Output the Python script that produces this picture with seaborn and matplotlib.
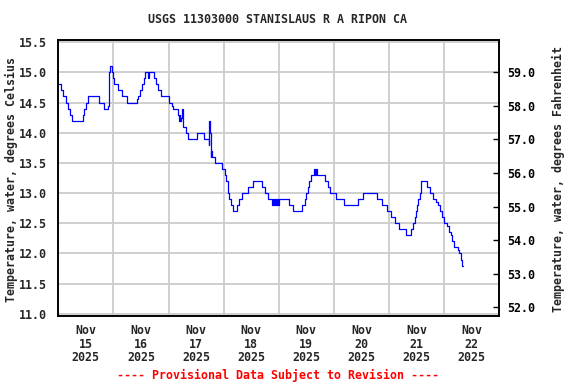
import numpy as np
import pandas as pd
import matplotlib
matplotlib.use("Agg")
import matplotlib.pyplot as plt
import matplotlib.dates as mdates
from matplotlib.ticker import FixedLocator, FormatStrFormatter
import seaborn as sns

# ---- data (hours since 2025-11-15 00:00, water temperature in deg C, step values) ----
hours = [0, 1.1, 2.2, 3.3, 4.1, 5.0, 5.9, 10.8, 11.3, 12.0, 12.9, 17.8, 20.0, 21.5,
         22.0, 22.6, 23.2, 23.8, 24.3, 26.1, 27.6, 30.0, 34.1, 34.8, 35.6, 36.3, 37.1,
         37.9, 39.2, 39.5, 41.7, 42.7, 43.5, 44.7, 48.3, 49.5, 50.1, 52.0, 52.4, 52.8,
         53.2, 53.6, 54.0, 54.3, 55.8, 56.6, 60.6, 63.5, 65.4, 65.8, 66.1, 66.4, 66.7,
         67.1, 68.3, 71.2, 72.4, 73.1, 73.7, 74.1, 74.5, 75.0, 76.1, 78.0, 78.6, 80.2,
         82.8, 84.6, 88.7, 89.8, 91.5, 93.0, 93.4, 93.9, 94.3, 94.8, 95.2, 95.7, 96.1,
         100.3, 102.2, 106.1, 107.3, 108.0, 108.7, 109.3, 110.1, 111.5, 111.9, 112.2,
         112.7, 116.2, 117.3, 118.5, 121.1, 124.3, 130.6, 132.6, 138.9, 141.0, 143.2,
         144.7, 146.8, 148.3, 151.5, 153.4, 154.3, 155.3, 155.8, 156.1, 156.6, 157.4,
         158.1, 160.4, 161.9, 163.3, 164.3, 165.3, 166.2, 167.2, 167.9, 169.1, 170.1,
         170.8, 171.6, 172.3, 174.0, 174.5, 175.2, 175.9, 176.2]
temp_c = [14.8, 14.7, 14.6, 14.5, 14.4, 14.3, 14.2, 14.3, 14.4, 14.5, 14.6, 14.5, 14.4, 14.45,
          15.0, 15.1, 15.0, 14.9, 14.8, 14.7, 14.6, 14.5, 14.55, 14.6, 14.7, 14.8, 14.9,
          15.0, 14.9, 15.0, 14.9, 14.8, 14.7, 14.6, 14.5, 14.45, 14.4, 14.3, 14.2, 14.3,
          14.2, 14.25, 14.4, 14.1, 14.0, 13.9, 14.0, 13.9, 13.8, 14.2, 14.0, 13.6, 13.7,
          13.6, 13.5, 13.4, 13.3, 13.2, 13.1, 13.0, 12.9, 12.8, 12.7, 12.8, 12.9, 13.0,
          13.1, 13.2, 13.1, 13.0, 12.9, 12.8, 12.9, 12.8, 12.9, 12.8, 12.9, 12.8, 12.9,
          12.8, 12.7, 12.8, 12.9, 13.0, 13.1, 13.2, 13.3, 13.4, 13.3, 13.4,
          13.3, 13.2, 13.1, 13.0, 12.9, 12.8, 12.9, 13.0, 12.9, 12.8, 12.7,
          12.6, 12.5, 12.4, 12.3, 12.4, 12.5, 12.6, 12.7, 12.8, 12.9, 13.0,
          13.2, 13.1, 13.0, 12.9, 12.85, 12.8, 12.7, 12.6, 12.5, 12.45, 12.35,
          12.3, 12.2, 12.1, 12.05, 12.0, 11.9, 11.8, 11.8]

start = pd.Timestamp("2025-11-15 00:00")
day_labels = ["Nov\n15\n2025", "Nov\n16\n2025", "Nov\n17\n2025", "Nov\n18\n2025",
              "Nov\n19\n2025", "Nov\n20\n2025", "Nov\n21\n2025", "Nov\n22\n2025"]
left_ticks = [11.0, 11.5, 12.0, 12.5, 13.0, 13.5, 14.0, 14.5, 15.0, 15.5]
right_ticks = [52.0, 53.0, 54.0, 55.0, 56.0, 57.0, 58.0, 59.0]

title = "USGS 11303000 STANISLAUS R A RIPON CA"
ylabel_left = "Temperature, water, degrees Celsius"
ylabel_right = "Temperature, water, degrees Fahrenheit"
footer = "---- Provisional Data Subject to Revision ----"

df = pd.DataFrame({"time": start + pd.to_timedelta(hours, unit="h"), "temp": temp_c})

sns.set_theme(style="white")
plt.rcParams["font.family"] = ["DejaVu Sans Mono", "DejaVu Sans"]
plt.rcParams["font.weight"] = "bold"
FS = 8.4

fig = plt.figure(figsize=(5.76, 3.84), dpi=100)
ax = fig.add_axes([0.1012, 0.1771, 0.7656, 0.7195])

ax.set_axisbelow(True)
sns.lineplot(data=df, x="time", y="temp", ax=ax, color="#0000FF", linewidth=0.9,
             drawstyle="steps-post")

ylo, yhi = 10.965, 15.54
ax.set_ylim(ylo, yhi)
x0 = start
x1 = start + pd.Timedelta(days=8)
ax.set_xlim(x0, x1)

# grid at midnights, labels at noon
mid = [start + pd.Timedelta(days=d) for d in range(1, 8)]
noon = [start + pd.Timedelta(days=d, hours=12) for d in range(8)]
ax.xaxis.set_major_locator(FixedLocator(mdates.date2num(mid)))
ax.xaxis.set_major_formatter(plt.NullFormatter())
ax.set_xticks(mdates.date2num(noon), minor=True)
ax.set_xticklabels(day_labels, minor=True, fontsize=FS, fontweight="bold",
                   linespacing=1.05)
ax.tick_params(axis="x", which="both", length=0, pad=6)
ax.set_yticks(left_ticks)
ax.yaxis.set_major_formatter(FormatStrFormatter("%.1f"))
ax.tick_params(axis="y", which="major", length=0, pad=8, labelsize=FS)
for t in ax.get_yticklabels():
    t.set_fontweight("bold")

ax.grid(True, which="major", color="#CCCCCC", linewidth=1.3)
ax.set_xlabel("")
ax.set_ylabel(ylabel_left, fontsize=FS, fontweight="bold")
ax.yaxis.set_label_coords(-0.091, 0.495)

for s in ax.spines.values():
    s.set_color("black")
    s.set_linewidth(1.2)

ax2 = ax.twinx()
ax2.set_ylim(ylo * 9 / 5 + 32, yhi * 9 / 5 + 32)
ax2.set_yticks(right_ticks)
ax2.yaxis.set_major_formatter(FormatStrFormatter("%.1f"))
ax2.tick_params(axis="y", direction="in", length=4, width=1, pad=6, labelsize=FS,
                colors="black")
for t in ax2.get_yticklabels():
    t.set_fontweight("bold")
ax2.set_ylabel(ylabel_right, fontsize=FS, fontweight="bold")
ax2.yaxis.set_label_coords(1.1195, 0.495)
ax2.grid(False)
for s in ax2.spines.values():
    s.set_color("black")
    s.set_linewidth(1.2)

fig.text(0.482, 0.95, title, ha="center", va="center", fontsize=FS, fontweight="bold")
fig.text(0.482, 1 - 375 / 384, footer, ha="center", va="center", fontsize=FS,
         fontweight="bold", color="#FF0000")

fig.savefig("out.png", dpi=100)
